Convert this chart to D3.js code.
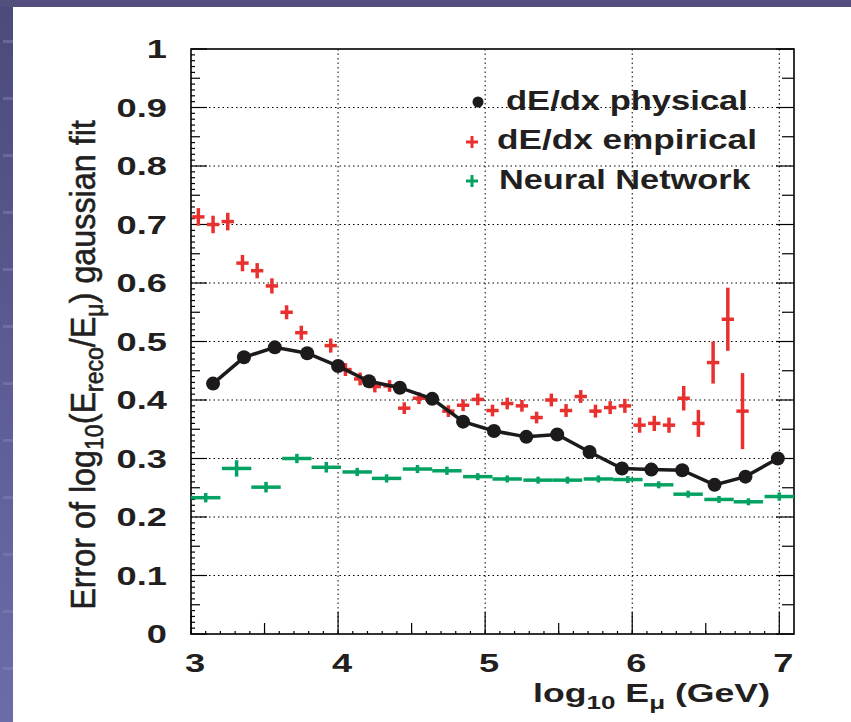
<!DOCTYPE html>
<html>
<head>
<meta charset="utf-8">
<script src="https://cdn.jsdelivr.net/npm/d3@7"></script>
<style>
	html, body { margin: 0; padding: 0; background: #fff; }
	svg { display: block; }
	text { font-family: "Liberation Sans", Arial, Helvetica, sans-serif; font-weight: bold; fill: #231f20; }
</style>
</head>
<body>
<svg width="851" height="722"></svg>
<script>

// dE/dx physical (black dots joined by a line)
const physX = [3.15, 3.36, 3.57, 3.79, 4.00, 4.21, 4.42, 4.64, 4.85, 5.06, 5.28, 5.49, 5.71, 5.93, 6.13, 6.34, 6.56, 6.77, 6.99];
const physY = [0.428, 0.473, 0.490, 0.480, 0.458, 0.432, 0.421, 0.402, 0.363, 0.347, 0.337, 0.341, 0.311, 0.283, 0.281, 0.280, 0.255, 0.269, 0.300];

// dE/dx empirical (red crosses)
const empX = [3.05, 3.15, 3.25, 3.35, 3.45, 3.55, 3.65, 3.75, 3.95, 4.05, 4.15, 4.25, 4.35, 4.45, 4.55, 4.75, 4.85, 4.95,
	5.05, 5.15, 5.25, 5.35, 5.45, 5.55, 5.65, 5.75, 5.85, 5.95, 6.05, 6.15, 6.25, 6.35, 6.45, 6.55, 6.65, 6.75];
const empY = [0.713, 0.700, 0.705, 0.634, 0.621, 0.595, 0.550, 0.515, 0.493, 0.452, 0.436, 0.423, 0.424, 0.386, 0.403, 0.381, 0.391, 0.401,
	0.382, 0.394, 0.390, 0.370, 0.400, 0.382, 0.406, 0.381, 0.387, 0.390, 0.357, 0.360, 0.357, 0.403, 0.360, 0.464, 0.538, 0.381];
const empErr = [0.015, 0.015, 0.015, 0.014, 0.013, 0.013, 0.012, 0.012, 0.012, 0.011, 0.011, 0.010, 0.010, 0.010, 0.010, 0.010, 0.010, 0.010,
	0.010, 0.010, 0.010, 0.010, 0.011, 0.011, 0.011, 0.011, 0.011, 0.012, 0.013, 0.013, 0.013, 0.021, 0.023, 0.036, 0.054, 0.065];
const empHalfBin = 0.042;

// Neural Network (green crosses, bin wide)
const nnX = [3.10, 3.31, 3.51, 3.72, 3.92, 4.13, 4.33, 4.54, 4.74, 4.95, 5.15, 5.36, 5.56, 5.77, 5.97, 6.18, 6.38, 6.59, 6.79, 7.00];
const nnY = [0.233, 0.283, 0.251, 0.300, 0.285, 0.277, 0.266, 0.282, 0.279, 0.269, 0.265, 0.263, 0.263, 0.265, 0.264, 0.255, 0.239, 0.230, 0.226, 0.235];
const nnErr = [0.008, 0.014, 0.009, 0.008, 0.009, 0.007, 0.007, 0.007, 0.007, 0.006, 0.006, 0.006, 0.006, 0.006, 0.006, 0.006, 0.006, 0.006, 0.006, 0.007];
const nnHalfBin = 0.1;

const xTicks = [3, 4, 5, 6, 7];
const yTicks = [0, 0.1, 0.2, 0.3, 0.4, 0.5, 0.6, 0.7, 0.8, 0.9, 1];
const yTickLabels = ['0', '0.1', '0.2', '0.3', '0.4', '0.5', '0.6', '0.7', '0.8', '0.9', '1'];
const legendNames = ['dE/dx physical', 'dE/dx empirical', 'Neural Network'];

const FRAME = { left: 191, right: 794, top: 49, bottom: 634 };
const RED = '#e8312f';
const GREEN = '#04a262';
const BLACK = '#1c1a1b';

function whenDocumentLoaded(action) {
	if (document.readyState === 'loading') {
		document.addEventListener('DOMContentLoaded', action);
	} else {
		action();
	}
}

// stretch a text horizontally so it takes the given width
function fitWidth(textSel, x, y, width, anchor) {
	const w = textSel.node().getBBox().width;
	const sx = width / w;
	textSel.attr('text-anchor', anchor)
	.attr('transform', 'translate(' + x + ' ' + y + ') scale(' + sx + ' 1)');
}

whenDocumentLoaded(() => {

	const svg = d3.select('svg');

	// slide background
	const defs = svg.append('defs');
	const grad = defs.append('linearGradient').attr('id', 'side').attr('x1', 0).attr('y1', 0).attr('x2', 0).attr('y2', 1);
	grad.append('stop').attr('offset', '0%').attr('stop-color', '#4c4a7a');
	grad.append('stop').attr('offset', '100%').attr('stop-color', '#6c6cab');
	svg.append('rect').attr('x', 0).attr('y', 0).attr('width', 13).attr('height', 722).attr('fill', 'url(#side)');
	svg.append('rect').attr('x', 0).attr('y', 0).attr('width', 851).attr('height', 7).attr('fill', '#524f7e');
	svg.append('g').selectAll('rect')
	.data(d3.range(40, 722, 57))
	.enter()
	.append('rect')
	.attr('x', 3).attr('y', d => d).attr('width', 10).attr('height', 3)
	.attr('fill', '#8282b8').attr('opacity', 0.5);

	const x = d3.scaleLinear().domain([3, 7.1]).range([FRAME.left, FRAME.right]);
	const y = d3.scaleLinear().domain([0, 1]).range([FRAME.bottom, FRAME.top]);

	const plot = svg.append('g');

	// dotted grid
	plot.append('g').selectAll('line')
	.data(xTicks.slice(1))
	.enter()
	.append('line')
	.attr('x1', d => x(d)).attr('x2', d => x(d))
	.attr('y1', FRAME.top).attr('y2', FRAME.bottom)
	.attr('stroke', '#000').attr('stroke-width', 1).attr('stroke-dasharray', '1.5 3');

	plot.append('g').selectAll('line')
	.data(yTicks.slice(1, -1))
	.enter()
	.append('line')
	.attr('y1', d => y(d)).attr('y2', d => y(d))
	.attr('x1', FRAME.left).attr('x2', FRAME.right)
	.attr('stroke', '#000').attr('stroke-width', 1).attr('stroke-dasharray', '1.5 3');

	// ticks
	const ticks = plot.append('g').attr('stroke', '#000').attr('stroke-width', 1.2);
	const fine = d3.range(0, 1.0001, 0.01);
	ticks.selectAll('.yl')
	.data(fine)
	.enter()
	.append('line')
	.attr('class', 'yl')
	.attr('x1', FRAME.left)
	.attr('x2', (d, i) => FRAME.left + (i % 10 === 0 ? 16 : (i % 5 === 0 ? 9 : 4)))
	.attr('y1', d => y(d)).attr('y2', d => y(d));

	ticks.selectAll('.yr')
	.data(d3.range(0, 1.0001, 0.05))
	.enter()
	.append('line')
	.attr('class', 'yr')
	.attr('x1', FRAME.right)
	.attr('x2', (d, i) => FRAME.right - (i % 2 === 0 ? 18 : 12))
	.attr('y1', d => y(d)).attr('y2', d => y(d));

	ticks.selectAll('.xb')
	.data(d3.range(3, 7.01, 0.5))
	.enter()
	.append('line')
	.attr('class', 'xb')
	.attr('x1', d => x(d)).attr('x2', d => x(d))
	.attr('y1', FRAME.bottom)
	.attr('y2', (d, i) => FRAME.bottom - (i % 2 === 0 ? 22 : 11));

	ticks.selectAll('.xf')
	.data(d3.range(3, 7.1, 0.1))
	.enter()
	.append('line')
	.attr('class', 'xf')
	.attr('x1', d => x(d)).attr('x2', d => x(d))
	.attr('y1', FRAME.bottom).attr('y2', FRAME.bottom - 3);

	// frame
	plot.append('rect')
	.attr('x', FRAME.left).attr('y', FRAME.top)
	.attr('width', FRAME.right - FRAME.left).attr('height', FRAME.bottom - FRAME.top)
	.attr('fill', 'none').attr('stroke', '#000').attr('stroke-width', 1.6);

	const clip = defs.append('clipPath').attr('id', 'frame');
	clip.append('rect').attr('x', FRAME.left).attr('y', FRAME.top)
	.attr('width', FRAME.right - FRAME.left).attr('height', FRAME.bottom - FRAME.top);

	const data = svg.append('g').attr('clip-path', 'url(#frame)');

	// Neural Network
	const nn = nnX.map((v, i) => ({ x: v, y: nnY[i], e: nnErr[i] }));
	const gNN = data.append('g').attr('stroke', GREEN).attr('stroke-width', 3.5);
	gNN.selectAll('.h')
	.data(nn)
	.enter()
	.append('line')
	.attr('class', 'h')
	.attr('x1', d => x(d.x - nnHalfBin)).attr('x2', d => x(d.x + nnHalfBin))
	.attr('y1', d => y(d.y)).attr('y2', d => y(d.y));
	gNN.selectAll('.v')
	.data(nn)
	.enter()
	.append('line')
	.attr('class', 'v')
	.attr('x1', d => x(d.x)).attr('x2', d => x(d.x))
	.attr('y1', d => y(d.y - d.e)).attr('y2', d => y(d.y + d.e));

	// dE/dx empirical
	const emp = empX.map((v, i) => ({ x: v, y: empY[i], e: empErr[i] }));
	const gEmp = data.append('g').attr('stroke', RED).attr('stroke-width', 3.5);
	gEmp.selectAll('.h')
	.data(emp)
	.enter()
	.append('line')
	.attr('class', 'h')
	.attr('x1', d => x(d.x - empHalfBin)).attr('x2', d => x(d.x + empHalfBin))
	.attr('y1', d => y(d.y)).attr('y2', d => y(d.y));
	gEmp.selectAll('.v')
	.data(emp)
	.enter()
	.append('line')
	.attr('class', 'v')
	.attr('x1', d => x(d.x)).attr('x2', d => x(d.x))
	.attr('y1', d => y(d.y - d.e)).attr('y2', d => y(d.y + d.e));

	// dE/dx physical
	const phys = physX.map((v, i) => ({ x: v, y: physY[i] }));
	data.append('path')
	.datum(phys)
	.attr('fill', 'none').attr('stroke', BLACK).attr('stroke-width', 3.5)
	.attr('d', d3.line().x(d => x(d.x)).y(d => y(d.y)));
	data.append('g').selectAll('circle')
	.data(phys)
	.enter()
	.append('circle')
	.attr('cx', d => x(d.x)).attr('cy', d => y(d.y)).attr('r', 7)
	.attr('fill', BLACK);

	// tick labels
	const labels = svg.append('g').style('font-size', '25px');
	yTicks.forEach((t, i) => {
		const tx = labels.append('text').attr('dy', '0.36em').text(yTickLabels[i]);
		const w = tx.node().getBBox().width;
		fitWidth(tx, 167, y(t), w * 1.45, 'end');
	});
	xTicks.forEach(t => {
		const tx = labels.append('text').attr('dy', '0').text(t);
		const w = tx.node().getBBox().width;
		fitWidth(tx, x(t) + 4, 672, w * 1.45, 'middle');
	});

	// x axis title
	const xt = svg.append('text').style('font-size', '26px');
	xt.append('tspan').text('log');
	xt.append('tspan').attr('dy', 7).style('font-size', '19px').text('10');
	xt.append('tspan').attr('dy', -7).text(' E');
	xt.append('tspan').attr('dy', 7).style('font-size', '19px').text('\u03bc');
	xt.append('tspan').attr('dy', -7).text(' (GeV)');
	fitWidth(xt, 770, 702, 237, 'end');

	// y axis title (narrow, tall glyphs)
	const yt = svg.append('text').style('font-size', '35px').style('font-weight', 'normal')
	.attr('text-anchor', 'middle');
	yt.append('tspan').text('Error of log');
	yt.append('tspan').attr('dy', 8).style('font-size', '25px').text('10');
	yt.append('tspan').attr('dy', -8).text('(E');
	yt.append('tspan').attr('dy', 8).style('font-size', '25px').text('reco');
	yt.append('tspan').attr('dy', -8).text('/E');
	yt.append('tspan').attr('dy', 8).style('font-size', '25px').text('\u03bc');
	yt.append('tspan').attr('dy', -8).text(') gaussian fit');
	const ylen = yt.node().getBBox().width;
	yt.attr('transform', 'translate(95 365) rotate(-90) scale(' + (490 / ylen) + ' 1)')
	.attr('stroke', '#231f20').attr('stroke-width', 0.6);

	// legend
	const legend = svg.append('g');
	legend.append('circle').attr('cx', 478).attr('cy', 102).attr('r', 5.5).attr('fill', BLACK);
	[[RED, 142], [GREEN, 181]].forEach(m => {
		legend.append('line').attr('x1', 466).attr('x2', 478).attr('y1', m[1]).attr('y2', m[1])
		.attr('stroke', m[0]).attr('stroke-width', 3);
		legend.append('line').attr('x1', 472).attr('x2', 472).attr('y1', m[1] - 6).attr('y2', m[1] + 6)
		.attr('stroke', m[0]).attr('stroke-width', 3);
	});
	const legendPos = [[506, 110, 242], [497, 149, 260], [499, 189, 253]];
	legendNames.forEach((name, i) => {
		const t = legend.append('text').style('font-size', '27px').text(name);
		fitWidth(t, legendPos[i][0], legendPos[i][1], legendPos[i][2], 'start');
	});

});
</script>
</body>
</html>
